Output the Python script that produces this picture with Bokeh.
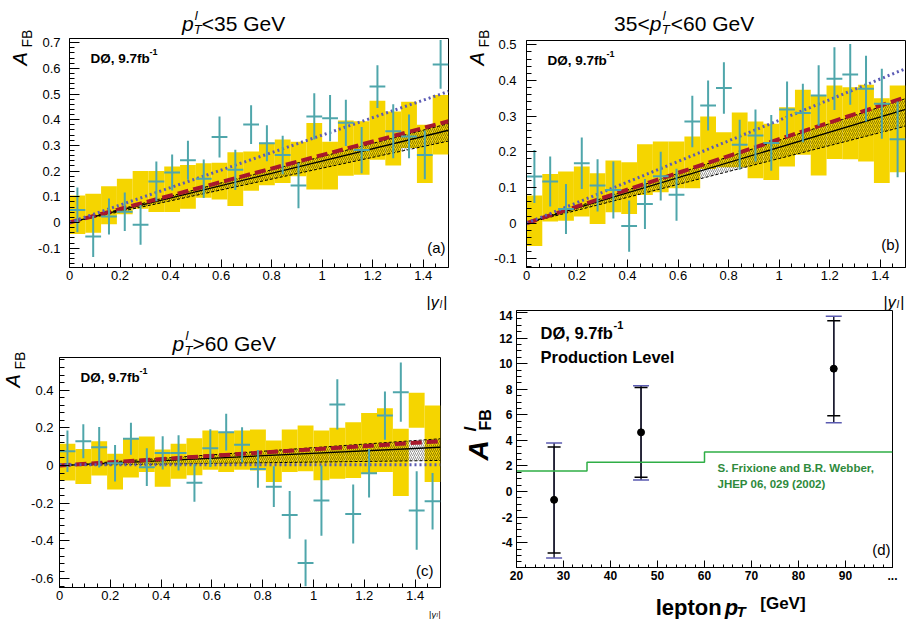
import numpy as np
from bokeh.plotting import figure
from bokeh.models import Label, Range1d, SingleIntervalTicker, CustomJSTickFormatter, Whisker, TeeHead, ColumnDataSource
from bokeh.layouts import column, row
from bokeh.embed import file_html
from bokeh.resources import INLINE

FONT = "Liberation Sans"

# ---------------- data ----------------
bin_edges = [0.0, 0.0625, 0.125, 0.1875, 0.25, 0.3125, 0.375, 0.4375, 0.5, 0.5625,
             0.625, 0.6875, 0.75, 0.8125, 0.875, 0.9375, 1.0, 1.0625, 1.125, 1.1875,
             1.25, 1.3125, 1.375, 1.4375, 1.5]

# panel (a): pT < 35 GeV
a_val = [0.049, -0.054, 0.023, 0.042, -0.009, 0.160, 0.195, 0.242, 0.170, 0.333, 0.205, 0.381,
         0.308, 0.263, 0.144, 0.413, 0.406, 0.388, 0.282, 0.529, 0.355, 0.335, 0.263, 0.615]
a_err = [0.087, 0.080, 0.070, 0.075, 0.077, 0.077, 0.070, 0.076, 0.075, 0.080, 0.078, 0.075,
         0.070, 0.075, 0.088, 0.090, 0.090, 0.090, 0.090, 0.083, 0.105, 0.085, 0.095, 0.095]
a_sys_lo = [-0.045, -0.040, -0.007, 0.032, 0.054, 0.041, 0.041, 0.054, 0.096, 0.090, 0.064, 0.124,
            0.145, 0.154, 0.180, 0.128, 0.128, 0.182, 0.186, 0.244, 0.222, 0.290, 0.154, 0.265]
a_sys_hi = [0.105, 0.112, 0.141, 0.170, 0.200, 0.200, 0.218, 0.224, 0.231, 0.233, 0.273, 0.276,
            0.308, 0.323, 0.314, 0.387, 0.314, 0.397, 0.394, 0.474, 0.432, 0.470, 0.380, 0.496]

# panel (b): 35 < pT < 60 GeV
b_val = [0.131, 0.117, 0.040, 0.168, 0.106, 0.093, -0.008, 0.054, 0.132, 0.080, 0.285, 0.330,
         0.379, 0.220, 0.246, 0.225, 0.319, 0.309, 0.358, 0.405, 0.417, 0.377, 0.335, 0.235]
b_err = [0.074, 0.070, 0.070, 0.072, 0.073, 0.080, 0.072, 0.070, 0.068, 0.073, 0.072, 0.070,
         0.072, 0.070, 0.073, 0.078, 0.078, 0.082, 0.085, 0.088, 0.085, 0.092, 0.098, 0.106]
b_sys_lo = [-0.064, 0.005, 0.007, 0.019, -0.002, 0.031, 0.026, 0.079, 0.087, 0.098, 0.098, 0.152,
            0.157, 0.157, 0.126, 0.121, 0.159, 0.192, 0.134, 0.180, 0.179, 0.173, 0.113, 0.143]
b_sys_hi = [0.078, 0.138, 0.145, 0.159, 0.140, 0.176, 0.171, 0.221, 0.229, 0.229, 0.243, 0.299,
            0.255, 0.310, 0.285, 0.279, 0.325, 0.374, 0.358, 0.386, 0.381, 0.388, 0.350, 0.386]

# panel (c): pT > 60 GeV
c_val = [0.076, 0.129, 0.097, 0.012, 0.142, -0.009, 0.067, 0.067, -0.092, 0.092, 0.177, 0.110,
         -0.018, -0.112, -0.262, -0.517, -0.186, 0.324, -0.257, -0.041, 0.265, 0.389, -0.239, -0.189]
c_err = [0.110, 0.090, 0.108, 0.097, 0.085, 0.100, 0.088, 0.093, 0.100, 0.100, 0.097, 0.093,
         0.100, 0.108, 0.127, 0.124, 0.186, 0.133, 0.157, 0.128, 0.128, 0.157, 0.208, 0.150]
c_sys_lo = [-0.080, -0.098, -0.053, -0.127, -0.064, -0.035, -0.113, -0.070, -0.052, -0.023, -0.035, -0.023,
            -0.026, -0.087, -0.035, -0.031, -0.078, -0.070, -0.066, -0.043, -0.035, -0.162, 0.200, -0.087]
c_sys_hi = [0.115, 0.088, 0.129, 0.062, 0.142, 0.154, 0.085, 0.115, 0.145, 0.186, 0.177, 0.186,
            0.191, 0.133, 0.191, 0.212, 0.186, 0.200, 0.230, 0.278, 0.304, 0.195, 0.386, 0.319]

# theory curves (|y| = 0 and 1.5)
theory_x = [0.0, 1.5]
a_blue, a_red, a_black = [0.0, 0.510], [0.0, 0.394], [0.0, 0.359]
a_band_lo, a_band_hi = [0.0, 0.317], [0.0, 0.385]
b_blue, b_red, b_black = [0.0, 0.433], [0.0, 0.353], [0.0, 0.319]
b_band_lo, b_band_hi = [0.0, 0.272], [0.0, 0.349]
c_blue, c_red, c_black = [0.004, 0.004], [0.0, 0.129], [0.0, 0.097]
c_band_lo, c_band_hi = [0.0, 0.027], [0.0, 0.142]

# panel (d): production level lepton AFB (%) vs lepton pT
d_pt = [28.0, 46.5, 87.5]
d_afb = [-0.65, 4.63, 9.61]
d_stat_lo = [-4.8, 1.12, 5.93]
d_stat_hi = [3.48, 8.13, 13.35]
d_tot_lo = [-5.2, 0.91, 5.38]
d_tot_hi = [3.79, 8.28, 13.71]
d_theory_edges = [20, 35, 60, 100]
d_theory_val = [1.6, 2.3, 3.1]

YELLOW = "#f5d500"
TEAL = "#4fa6ab"
BLUE = "#5b5bb5"
RED = "#a8182b"
GREEN_LINE = "#2fae46"
GREEN_TXT = "#2e8a3c"
UP = np.pi / 2


# ---------------- helpers ----------------
class TextFig:
    """A figure with no axes used only to hold texts placed in page pixels."""
    def __init__(self, x, y, w, h, bl=0, br=0):
        self.L = x + bl
        self.B = y + h
        fw = w - bl - br
        self.fig = figure(width=w, height=h, x_range=Range1d(0, fw), y_range=Range1d(0, h),
                          x_axis_type=None, y_axis_type=None, output_backend="svg",
                          toolbar_location=None, tools="", min_border_left=bl,
                          min_border_right=br, min_border_top=0, min_border_bottom=0)
        self.fig.outline_line_color = None
        self.fig.background_fill_color = "white"
        self.fig.border_fill_color = "white"

    def put(self, px, py, text, size, style="normal", color="black", align="left", angle=0.0,
            baseline="alphabetic"):
        self.fig.add_layout(Label(x=px - self.L, y=self.B - py, text=text, text_font=FONT,
                                  text_font_size=f"{size}px", text_font_style=style,
                                  text_color=color, text_align=align,
                                  text_baseline=baseline, angle=angle))


def make_fig(w, h, bl, br, bt, bb, xr, yr):
    p = figure(width=w, height=h, x_range=Range1d(*xr), y_range=Range1d(*yr),
               output_backend="svg", toolbar_location=None, tools="",
               min_border_left=bl, min_border_right=br, min_border_top=bt, min_border_bottom=bb)
    p.xgrid.visible = False
    p.ygrid.visible = False
    p.outline_line_color = "black"
    p.outline_line_width = 1
    p.background_fill_color = "white"
    p.border_fill_color = "white"
    for ax in (p.xaxis[0], p.yaxis[0]):
        ax.axis_line_color = "black"
        ax.major_tick_line_color = "black"
        ax.minor_tick_line_color = "black"
        ax.major_tick_out = 0
        ax.minor_tick_out = 0
        ax.major_label_text_font = FONT
        ax.major_label_text_color = "black"
    return p


def inlabel(p, F, px, py, text, size, style="normal", color="black", align="left"):
    # F = (frame_left, frame_top, xmin, ymax)
    L, T, x0, y1 = F
    p.add_layout(Label(x=x0, y=y1, x_offset=px - L, y_offset=T - py, text=text, text_font=FONT,
                       text_font_size=f"{size}px", text_font_style=style, text_color=color,
                       text_align=align, text_baseline="alphabetic"))


ROOT_FMT = CustomJSTickFormatter(code="""
const v = Math.round(tick*1000)/1000;
return v === 0 ? "0" : String(v);
""")


def afb_panel(w, h, bl, br, bt, bb, yr, yint, val, err, slo, shi, blue, red, black, blo, bhi):
    xr = (0.0, 1.5)
    p = make_fig(w, h, bl, br, bt, bb, xr, yr)
    p.xaxis.ticker = SingleIntervalTicker(interval=0.2, num_minor_ticks=4)
    p.yaxis.ticker = SingleIntervalTicker(interval=yint, num_minor_ticks=5)
    p.xaxis.formatter = ROOT_FMT
    p.yaxis.formatter = ROOT_FMT
    p.xaxis.major_tick_in = 8
    p.xaxis.minor_tick_in = 4
    p.yaxis.major_tick_in = 10
    p.yaxis.minor_tick_in = 5
    p.xaxis.major_label_text_font_size = "13px"
    p.yaxis.major_label_text_font_size = "13px"
    p.xaxis.major_label_standoff = 3

    edges = np.array(bin_edges)
    left, right = edges[:-1], edges[1:]
    centers = (left + right) / 2
    half = (right - left) / 2
    v = np.array(val)
    e = np.array(err)
    p.quad(left=left, right=right, bottom=slo, top=shi, fill_color=YELLOW, line_color=None)
    bx = list(theory_x) + list(theory_x[::-1])
    by = list(blo) + list(bhi[::-1])
    p.patch(bx, by, fill_alpha=0, line_color=None, hatch_pattern="/", hatch_color="black",
            hatch_scale=4, hatch_weight=0.5, hatch_alpha=0.85)
    p.line(theory_x, blo, line_color="black", line_width=1, line_dash="3 2")
    p.line(theory_x, bhi, line_color="black", line_width=1, line_dash="3 2")
    p.line(theory_x, black, line_color="black", line_width=1.3)
    p.line(theory_x, red, line_color=RED, line_width=4, line_dash="11 5")
    p.line(theory_x, blue, line_color=BLUE, line_width=3, line_dash="2 3")
    p.segment(x0=centers - half, x1=centers + half, y0=v, y1=v, line_color=TEAL, line_width=2)
    p.segment(x0=centers, x1=centers, y0=v - e, y1=v + e, line_color=TEAL, line_width=2)
    return p


def inner_texts(p, F, R, B, tag, tag_dx, tag_dy):
    L, T = F[0], F[1]
    inlabel(p, F, L + 21, T + 20, "DØ, 9.7fb", 13.5, "bold")
    inlabel(p, F, L + 80, T + 13, "-1", 9, "bold")
    inlabel(p, F, R + tag_dx, B + tag_dy, tag, 15, align="right")


def ytitle(tf, a_cx, a_y, fb_cx, fb_y):
    # rotated texts, anchored on the centre line of the glyphs
    tf.put(a_cx, a_y, "A", 20, "italic", angle=UP, baseline="middle")
    tf.put(fb_cx, fb_y, "FB", 14, "normal", angle=UP, baseline="middle")


def xtitle(tf, R, base, size=16, sub=10, sub_dy=2.5):
    k = size / 18.0
    tf.put(R - 25 * k, base, "|", size)
    tf.put(R - 20 * k, base, "y", size, "italic")
    tf.put(R - 10 * k, base + sub_dy, "l", sub, "italic")
    tf.put(R - 6 * k, base, "|", size)


# ================= row 1 (page y 0-310) =================
# panel (a): frame page x 67-448, y 38-267
ya_r = (-0.175, 0.716)
ya_fig = TextFig(0, 0, 35, 310)
ytitle(ya_fig, 19, 65, 26, 47)
ta = TextFig(35, 0, 425, 36, 32, 12)
ta.put(180, 22.7, "p", 21, "italic")
ta.put(193, 15, "l", 13, "italic")
ta.put(192, 29, "T", 13, "italic")
ta.put(200, 22.7, "<35 GeV", 21)
pa = afb_panel(425, 249, 32, 12, 2, 18, ya_r, 0.1, a_val, a_err, a_sys_lo, a_sys_hi,
               a_blue, a_red, a_black, a_band_lo, a_band_hi)
pa.yaxis.major_label_standoff = 9
inner_texts(pa, (67, 38, 0.0, ya_r[1]), 448, 267, "(a)", -5, -20)
xa = TextFig(35, 285, 425, 25, 32, 12)
xtitle(xa, 448, 301.5)

# panel (b): frame page x 524-905, y 40-267
yb_r = (-0.124, 0.512)
yb_fig = TextFig(460, 0, 31, 310)
ytitle(yb_fig, 476, 65, 483, 47)
tb = TextFig(491, 0, 416, 36, 33, 2)
tb.put(612, 22.7, "35<", 21)
tb.put(648, 22.7, "p", 21, "italic")
tb.put(661, 15, "l", 13, "italic")
tb.put(660, 29, "T", 13, "italic")
tb.put(669, 22.7, "<60 GeV", 21)
pb = afb_panel(416, 249, 33, 2, 4, 18, yb_r, 0.1, b_val, b_err, b_sys_lo, b_sys_hi,
               b_blue, b_red, b_black, b_band_lo, b_band_hi)
pb.yaxis.major_label_standoff = 10
inner_texts(pb, (524, 40, 0.0, yb_r[1]), 905, 267, "(b)", -8, -23)
xb = TextFig(491, 285, 416, 25, 33, 2)
xtitle(xb, 905, 301.5)

# ================= row 2 (page y 310-619) =================
# panel (c): frame page x 59-440, y 357-587
yc_r = (-0.647, 0.573)
yc_fig = TextFig(0, 310, 28, 309)
ytitle(yc_fig, 12, 387, 19, 369)
tc = TextFig(28, 310, 432, 46, 31, 20)
tc.put(172, 343.3, "p", 21, "italic")
tc.put(185, 335, "l", 13, "italic")
tc.put(184, 349.5, "T", 13, "italic")
tc.put(192, 343.3, ">60 GeV", 21)
pc = afb_panel(432, 249, 31, 20, 1, 18, yc_r, 0.2, c_val, c_err, c_sys_lo, c_sys_hi,
               c_blue, c_red, c_black, c_band_lo, c_band_hi)
pc.yaxis.major_label_standoff = 6
inner_texts(pc, (59, 357, 0.0, yc_r[1]), 440, 587, "(c)", -7, -17)
xc = TextFig(28, 605, 432, 14, 31, 20)
xtitle(xc, 441, 614, size=9, sub=6, sub_dy=0.5)

# panel (d): frame page x 511-892, y 310-567
xd_r = (20.0, 100.0)
yd_r = (-5.94, 14.16)
yd_fig = TextFig(460, 310, 36, 309)
yd_fig.put(478, 460, "A", 28, "bold italic", angle=UP, baseline="middle")
yd_fig.put(470, 431, "l", 17, "bold italic", angle=UP, baseline="middle")
yd_fig.put(485, 430, "FB", 16, "bold", angle=UP, baseline="middle")

pd = make_fig(411, 275, 15, 15, 0, 18, xd_r, yd_r)
pd.xaxis.ticker = SingleIntervalTicker(interval=10, num_minor_ticks=5)
pd.yaxis.ticker = SingleIntervalTicker(interval=2, num_minor_ticks=4)
pd.xaxis.formatter = CustomJSTickFormatter(code="""
if (tick > 99.5) return "...";
return String(Math.round(tick));
""")
pd.yaxis.formatter = CustomJSTickFormatter(code="return String(Math.round(tick));")
pd.xaxis.major_tick_in = 7
pd.xaxis.minor_tick_in = 3
pd.yaxis.major_tick_in = 11
pd.yaxis.minor_tick_in = 5
for ax in (pd.xaxis[0], pd.yaxis[0]):
    ax.major_label_text_font_size = "12px"
    ax.major_label_text_font_style = "bold"
pd.xaxis.major_label_standoff = 3
pd.yaxis.major_label_standoff = 4

step_y = list(d_theory_val) + [d_theory_val[-1]]
pd.step(x=d_theory_edges, y=step_y, mode="after", line_color=GREEN_LINE, line_width=1.5)

src = ColumnDataSource(dict(x=d_pt, y=d_afb, slo=d_stat_lo, shi=d_stat_hi, tlo=d_tot_lo, thi=d_tot_hi))
w_tot = Whisker(base="x", lower="tlo", upper="thi", source=src, dimension="height",
                line_color="#1c1c30", line_width=1.5,
                upper_head=TeeHead(size=16, line_color="#5a5ab0", line_width=1.5),
                lower_head=TeeHead(size=16, line_color="#5a5ab0", line_width=1.5))
w_stat = Whisker(base="x", lower="slo", upper="shi", source=src, dimension="height",
                 line_color="#1c1c30", line_width=1.5,
                 upper_head=TeeHead(size=13, line_color="black", line_width=1.5),
                 lower_head=TeeHead(size=13, line_color="black", line_width=1.5))
pd.add_layout(w_tot)
pd.add_layout(w_stat)
pd.scatter(x="x", y="y", source=src, size=7, color="black")

Fd = (511, 310, xd_r[0], yd_r[1])
inlabel(pd, Fd, 535, 332, "DØ, 9.7fb", 16.5, "bold")
inlabel(pd, Fd, 608, 324, "-1", 11, "bold")
inlabel(pd, Fd, 535, 356, "Production Level", 16.5, "bold")
inlabel(pd, Fd, 712, 467, "S. Frixione and B.R. Webber,", 11.5, "bold", GREEN_TXT)
inlabel(pd, Fd, 712, 483, "JHEP 06, 029 (2002)", 11.5, "bold", GREEN_TXT)
inlabel(pd, Fd, 885, 549, "(d)", 15, align="right")

xd = TextFig(496, 585, 411, 34, 15, 15)
xd.put(652, 607, "lepton", 22, "bold")
xd.put(722, 607, "p", 22, "bold italic")
xd.put(734, 611, "T", 15, "bold italic")
xd.put(758, 603, "[GeV]", 17, "bold")

row1 = row(ya_fig.fig, column(ta.fig, pa, xa.fig), yb_fig.fig, column(tb.fig, pb, xb.fig))
row2 = row(yc_fig.fig, column(tc.fig, pc, xc.fig), yd_fig.fig, column(pd, xd.fig))
layout = column(row1, row2)
open("out.html", "w").write(file_html(layout, INLINE))
